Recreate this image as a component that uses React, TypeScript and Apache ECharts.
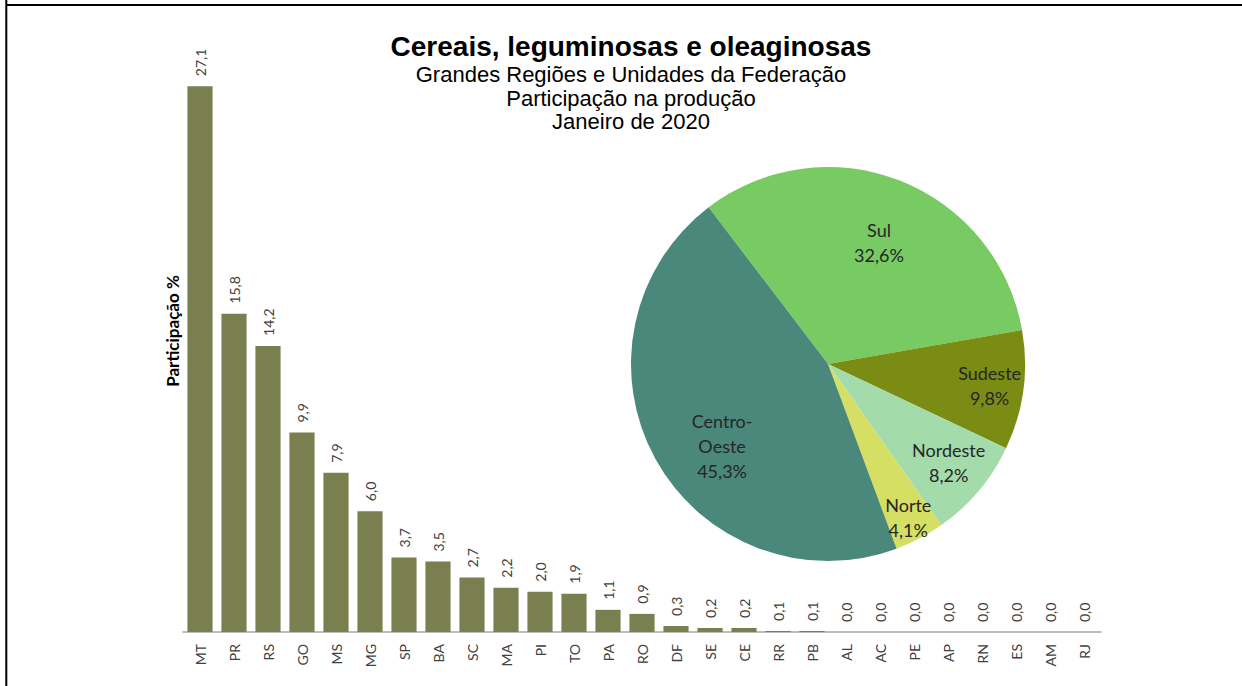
import React, { useEffect, useRef } from "react";
import * as echarts from "echarts";

const states = ["MT","PR","RS","GO","MS","MG","SP","BA","SC","MA","PI","TO","PA","RO","DF","SE","CE","RR","PB","AL","AC","PE","AP","RN","ES","AM","RJ"];
const stateShare = [27.1,15.8,14.2,9.9,7.9,6.0,3.7,3.5,2.7,2.2,2.0,1.9,1.1,0.9,0.3,0.2,0.2,0.05,0.05,0.0,0.0,0.0,0.0,0.0,0.0,0.0,0.0];

const regions = ["Sul","Sudeste","Nordeste","Norte","Centro-Oeste"];
const regionShare = [32.6,9.8,8.2,4.1,45.3];
const regionColors = ["#77CB62","#7A8C14","#A3DCAA","#D5DF63","#4A887C"];

const titleText = "Cereais, leguminosas e oleaginosas";
const subtitleLines = ["Grandes Regiões e Unidades da Federação","Participação na produção","Janeiro de 2020"];
const yAxisName = "Participação %";

// label nudges (style only) for the pie labels, by slice index
const pieLabelShift = [[14,-27],[61,8],[43,33],[33,64],[-17,33]];

const fmt = (v: number) => (Math.round(v * 10 + 0.001) / 10).toFixed(1).replace(".", ",");

export default function App() {
  const ref = useRef<HTMLDivElement>(null);
  useEffect(() => {
    const chart = echarts.init(ref.current!, null, { renderer: "svg" });
    chart.setOption({
      animation: false,
      backgroundColor: "#ffffff",
      title: [
        {
          text: titleText,
          left: 626,
          top: 27,
          textAlign: "center",
          textStyle: { fontFamily: "Liberation Sans", fontSize: 28, fontWeight: "bold", color: "#000" },
        },
        {
          text: subtitleLines.join("\n"),
          left: 626,
          top: 58,
          textAlign: "center",
          textStyle: { fontFamily: "Liberation Sans", fontSize: 22, fontWeight: "normal", color: "#000", lineHeight: 23.5 },
        },
      ],
      grid: { left: 183, right: 141, top: 68, bottom: 54 },
      xAxis: {
        type: "category",
        data: states,
        axisLine: { show: true, lineStyle: { color: "#a6a6a6", width: 1.5 } },
        axisTick: { show: false },
        axisLabel: { rotate: 90, margin: 12, fontFamily: "Lato", fontSize: 14, color: "#404040", interval: 0 },
      },
      yAxis: { type: "value", min: 0, max: 28, show: false },
      series: [
        {
          type: "bar",
          data: stateShare,
          barCategoryGap: "26%",
          itemStyle: { color: "#7A7F4F" },
          label: {
            show: true,
            position: "top",
            rotate: 90,
            align: "left",
            verticalAlign: "middle",
            distance: 10,
            fontFamily: "Lato",
            fontSize: 14,
            color: "#404040",
            formatter: (p: any) => fmt(p.value),
          },
        },
        {
          type: "pie",
          center: [828, 364],
          radius: 197,
          startAngle: 127.3,
          clockwise: true,
          data: regions.map((n, i) => ({ name: n, value: regionShare[i], itemStyle: { color: regionColors[i] } })),
          label: {
            show: true,
            position: "inside",
            fontFamily: "Lato",
            fontSize: 18,
            lineHeight: 25,
            color: "#262626",
            formatter: (p: any) => p.name.replace("Centro-", "Centro-\n") + "\n" + fmt(p.value) + "%",
          },
          labelLine: { show: false },
          labelLayout: (p: any) => ({ dx: pieLabelShift[p.dataIndex][0], dy: pieLabelShift[p.dataIndex][1] }),
          emphasis: { disabled: true },
        },
      ],
      graphic: [
        { type: "line", shape: { x1: 6, y1: 5, x2: 1242, y2: 5 }, style: { stroke: "#000", lineWidth: 2 } },
        { type: "line", shape: { x1: 6.3, y1: 0, x2: 6.3, y2: 686 }, style: { stroke: "#000", lineWidth: 2 } },
        {
          type: "text",
          x: 172,
          y: 331,
          rotation: Math.PI / 2,
          style: { text: yAxisName, fontFamily: "Lato", fontWeight: "bold", fontSize: 17, fill: "#000", textAlign: "center", textVerticalAlign: "middle" },
        },
      ],
    });
    return () => chart.dispose();
  }, []);
  return <div ref={ref} style={{ position: "absolute", left: 0, top: 0, width: 1242, height: 686 }} />;
}
